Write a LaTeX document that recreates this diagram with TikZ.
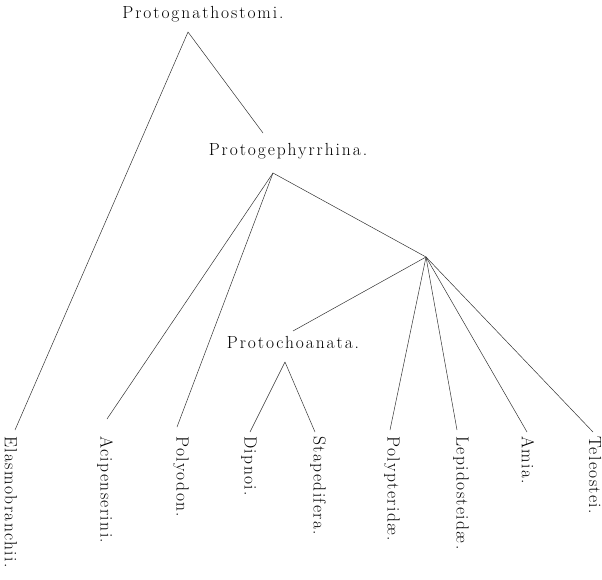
\documentclass[tikz,border=0pt]{standalone}
\usepackage{fontspec}
\newfontfamily\spaced{Latin Modern Roman}[LetterSpace=11]
\newfontfamily\leafspaced{Latin Modern Roman}[LetterSpace=8]
\tikzset{
  taxon/.style={font=\spaced\fontsize{17.5}{20}\selectfont},
  leaf/.style={font=\leafspaced\fontsize{17.5}{20}\selectfont,rotate=-90,anchor=west,inner sep=0pt},
  branch/.style={black!80,line width=0.5pt}
}
\begin{document}
\begin{tikzpicture}[x=1pt,y=-1pt]
  \useasboundingbox (0,0) rectangle (602,580);
  % inner taxa
  \node[taxon] (gnatho) at (203,14) {Protognathostomi.};
  \node[taxon] (gephyr) at (288,151) {Protogephyrrhina.};
  \node[taxon] (choana) at (293,342) {Protochoanata.};
  \coordinate (gnathoTip) at (188,32);
  \coordinate (gephyrTop) at (263,133);
  \coordinate (gephyrTip) at (273,173);
  \coordinate (knot) at (426,257);
  \coordinate (choanaTop) at (293,331);
  \coordinate (choanaTip) at (285,362);
  % terminal taxa
  \node[leaf] (elasmo) at (11,436) {Elasmobranchii.};
  \node[leaf] (acipen) at (105,436) {Acipenserini.};
  \node[leaf] (polyod) at (181,436) {Polyodon.};
  \node[leaf] (dipnoi) at (249,436) {Dipnoi.};
  \node[leaf] (staped) at (318,436) {Stapedifera.};
  \node[leaf] (polypt) at (392,436) {Polypteridæ.};
  \node[leaf] (lepido) at (461,436) {Lepidosteidæ.};
  \node[leaf] (amia) at (528,436) {Amia.};
  \node[leaf] (teleo) at (595,436) {Teleostei.};
  % branches
  \draw[branch] (gnathoTip) -- ([xshift=4pt,yshift=6pt]elasmo.west);
  \draw[branch] (gnathoTip) -- (gephyrTop);
  \draw[branch] (gephyrTip) -- ([xshift=2pt,yshift=17pt]acipen.west);
  \draw[branch] (gephyrTip) -- ([xshift=-4pt,yshift=9pt]polyod.west);
  \draw[branch] (gephyrTip) -- (knot);
  \draw[branch] (knot) -- (choanaTop);
  \draw[branch] (knot) -- ([xshift=-2pt,yshift=6pt]polypt.west);
  \draw[branch] (knot) -- ([xshift=-4pt,yshift=6pt]lepido.west);
  \draw[branch] (knot) -- ([xshift=-1pt,yshift=4pt]amia.west);
  \draw[branch] (knot) -- ([xshift=-2pt,yshift=4pt]teleo.west);
  \draw[branch] (choanaTip) -- ([xshift=1pt,yshift=4pt]dipnoi.west);
  \draw[branch] (choanaTip) -- ([xshift=-3pt,yshift=4pt]staped.west);
\end{tikzpicture}
\end{document}
